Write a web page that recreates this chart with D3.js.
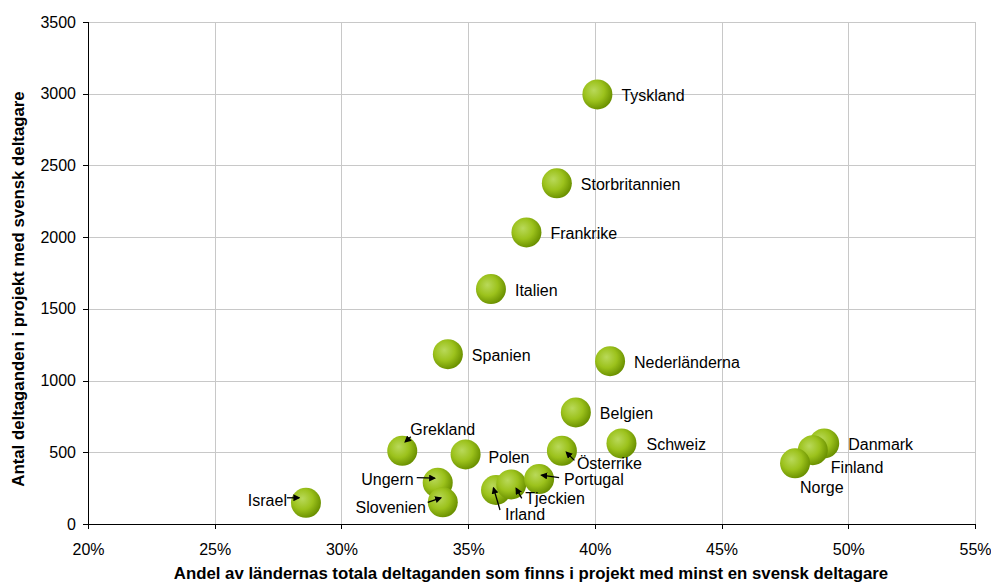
<!DOCTYPE html>
<html lang="sv">
<head>
    <meta charset="UTF-8">
    <title>Deltaganden med svensk deltagare</title>
    <script src="https://cdnjs.cloudflare.com/ajax/libs/d3/7.8.5/d3.min.js"></script>
    <style>
        body {
            margin: 0;
            font-family: "Liberation Sans", Arial, sans-serif;
            background: #fff;
        }
        .grid line {
            stroke: #c8c8c8;
            stroke-width: 1;
            shape-rendering: crispEdges;
        }
        .grid path {
            stroke-width: 0;
        }
        .axis path, .axis line {
            stroke: #000;
            shape-rendering: crispEdges;
        }
        .axis text {
            font-family: "Liberation Sans", Arial, sans-serif;
            font-size: 16px;
            fill: #000;
        }
        .axis-title {
            font-size: 16.8px;
            font-weight: bold;
            text-anchor: middle;
        }
        .point-label {
            font-size: 16px;
            fill: #000;
        }
        .pointer {
            stroke: #000;
            stroke-width: 1.3;
        }
    </style>
</head>
<body>
    <div id="chart"></div>

    <script>
        // Data
        const countries = ["Tyskland", "Storbritannien", "Frankrike", "Italien", "Spanien",
            "Nederländerna", "Belgien", "Grekland", "Polen", "Ungern", "Slovenien",
            "Irland", "Tjeckien", "Portugal", "Österrike", "Schweiz", "Israel",
            "Danmark", "Finland", "Norge"];
        const shares = [0.401, 0.385, 0.373, 0.359, 0.342,
            0.406, 0.3925, 0.324, 0.349, 0.338, 0.340,
            0.361, 0.367, 0.378, 0.387, 0.4105, 0.286,
            0.4905, 0.486, 0.479];
        const participants = [2995, 2375, 2033, 1638, 1184,
            1135, 778, 510, 485, 288, 151,
            237, 276, 313, 510, 562, 148,
            562, 515, 423];
        const xTicks = [0.20, 0.25, 0.30, 0.35, 0.40, 0.45, 0.50, 0.55];
        const yTicks = [0, 500, 1000, 1500, 2000, 2500, 3000, 3500];

        // Label placement relative to each bubble (pixels): text offset, anchor, optional pointer
        const labelLayout = {
            "Grekland":  {dx: 8, dy: -21, anchor: "start", arrow: [8.5, -14, 3, -9]},
            "Polen":     {dx: 23, dy: 3, anchor: "start"},
            "Ungern":    {dx: -24, dy: -3, anchor: "end", arrow: [-21, -5, -3, -4.5]},
            "Slovenien": {dx: -17, dy: 5, anchor: "end", arrow: [-15, 0, -2, -4.5]},
            "Irland":    {dx: 9, dy: 24, anchor: "start", arrow: [4, 20, -2.5, -2]},
            "Tjeckien":  {dx: 14, dy: 14, anchor: "start", arrow: [10.5, 14, 5, 4]},
            "Portugal":  {dx: 25, dy: 0, anchor: "start", arrow: [20, -1.5, 2.5, -4]},
            "Österrike": {dx: 15, dy: 13, anchor: "start", arrow: [12.5, 9.5, 4.5, 1.5]},
            "Schweiz":   {dx: 25, dy: 1, anchor: "start"},
            "Israel":    {dx: -19, dy: -2, anchor: "end", arrow: [-19, -5, -7, -5]},
            "Danmark":   {dx: 24, dy: 1, anchor: "start"},
            "Finland":   {dx: 18, dy: 17, anchor: "start"},
            "Norge":     {dx: 5, dy: 24, anchor: "start"}
        };
        const defaultLayout = {dx: 24, dy: 1, anchor: "start"};

        const data = countries.map((c, i) => ({name: c, share: shares[i], count: participants[i]}));

        const W = 991, H = 583;
        const margin = {top: 22, right: 16, bottom: 59, left: 88};

        const svg = d3.select("#chart").append("svg")
            .attr("width", W)
            .attr("height", H);

        const x = d3.scaleLinear().domain([0.20, 0.55]).range([margin.left, W - margin.right]);
        const y = d3.scaleLinear().domain([0, 3500]).range([H - margin.bottom, margin.top]);

        // Bubble gradient
        const defs = svg.append("defs");
        const grad = defs.append("radialGradient")
            .attr("id", "bubble")
            .attr("cx", "40%").attr("cy", "40%").attr("r", "62%")
            .attr("fx", "38%").attr("fy", "36%");
        grad.append("stop").attr("offset", "0%").attr("stop-color", "#b9d95a");
        grad.append("stop").attr("offset", "55%").attr("stop-color", "#9cc21c");
        grad.append("stop").attr("offset", "100%").attr("stop-color", "#6a9000");

        const marker = defs.append("marker")
            .attr("id", "arrowhead")
            .attr("viewBox", "0 0 10 10")
            .attr("refX", 8).attr("refY", 5)
            .attr("markerWidth", 7).attr("markerHeight", 7)
            .attr("markerUnits", "userSpaceOnUse")
            .attr("orient", "auto");
        marker.append("path").attr("d", "M0,0 L10,5 L0,10 z").attr("fill", "#000");

        // Grid lines
        svg.append("g")
            .attr("class", "grid")
            .attr("transform", `translate(0,${H - margin.bottom})`)
            .call(d3.axisBottom(x).tickValues(xTicks).tickSize(-(H - margin.bottom - margin.top)).tickFormat(""));

        svg.append("g")
            .attr("class", "grid")
            .attr("transform", `translate(${margin.left},0)`)
            .call(d3.axisLeft(y).tickValues(yTicks).tickSize(-(W - margin.right - margin.left)).tickFormat(""));

        // Axes
        svg.append("g")
            .attr("class", "axis")
            .attr("transform", `translate(0,${H - margin.bottom})`)
            .call(d3.axisBottom(x).tickValues(xTicks).tickSize(5).tickPadding(15).tickFormat(d3.format(".0%")));

        svg.append("g")
            .attr("class", "axis")
            .attr("transform", `translate(${margin.left},0)`)
            .call(d3.axisLeft(y).tickValues(yTicks).tickSize(5).tickPadding(7).tickFormat(d3.format("d")));

        // Axis titles
        svg.append("text")
            .attr("class", "axis-title")
            .attr("x", 531)
            .attr("y", 579)
            .text("Andel av ländernas totala deltaganden som finns i projekt med minst en svensk deltagare");

        svg.append("text")
            .attr("class", "axis-title")
            .attr("transform", "rotate(-90)")
            .attr("x", -289)
            .attr("y", 24)
            .text("Antal deltaganden i projekt med svensk deltagare");

        // Bubbles
        svg.append("g").selectAll("circle")
            .data(data)
            .join("circle")
            .attr("cx", d => x(d.share))
            .attr("cy", d => y(d.count))
            .attr("r", 15)
            .attr("fill", "url(#bubble)");

        // Labels and pointers
        const labels = svg.append("g");
        data.forEach(d => {
            const L = labelLayout[d.name] || defaultLayout;
            const cx = x(d.share), cy = y(d.count);
            labels.append("text")
                .attr("class", "point-label")
                .attr("x", cx + L.dx)
                .attr("y", cy + L.dy)
                .attr("dy", "0.35em")
                .attr("text-anchor", L.anchor)
                .text(d.name);
            if (L.arrow) {
                labels.append("line")
                    .attr("class", "pointer")
                    .attr("x1", cx + L.arrow[0])
                    .attr("y1", cy + L.arrow[1])
                    .attr("x2", cx + L.arrow[2])
                    .attr("y2", cy + L.arrow[3])
                    .attr("marker-end", "url(#arrowhead)");
            }
        });
    </script>
</body>
</html>
